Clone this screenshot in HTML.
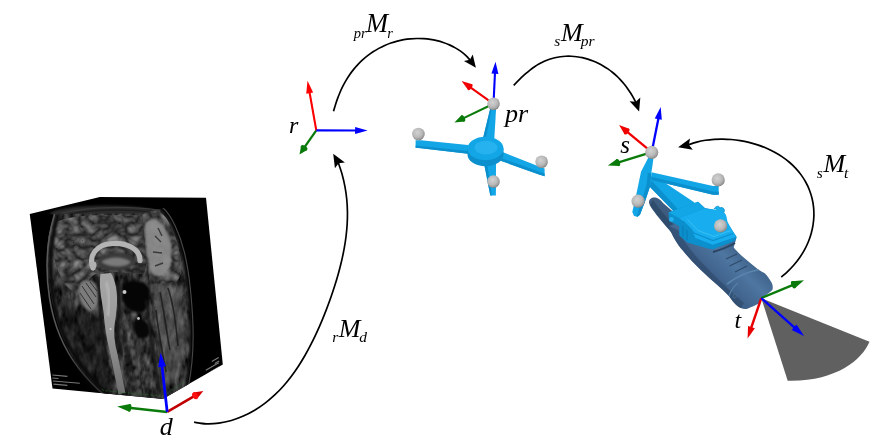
<!DOCTYPE html>
<html><head><meta charset="utf-8"><title>Coordinate transforms</title>
<style>
html,body{margin:0;padding:0;background:#fff;}
body{width:886px;height:446px;overflow:hidden;}
svg{display:block;}
svg{will-change:transform;}
svg text{font-family:"Liberation Serif",serif;font-style:italic;fill:#000;}
</style></head><body>
<svg width="886" height="446" viewBox="0 0 886 446">
<defs>
<radialGradient id="sph" cx="0.42" cy="0.38" r="0.62">
<stop offset="0" stop-color="#d2d2d2"/><stop offset="0.6" stop-color="#bababa"/><stop offset="0.9" stop-color="#9a9a9a"/><stop offset="1" stop-color="#808080"/>
</radialGradient>
<linearGradient id="cordg" gradientUnits="userSpaceOnUse" x1="105" y1="274" x2="120" y2="394"><stop offset="0" stop-color="#a6a6a6"/><stop offset="0.45" stop-color="#9a9a9a"/><stop offset="1" stop-color="#6e6e6e"/></linearGradient>
<linearGradient id="probeg" gradientUnits="userSpaceOnUse" x1="703" y1="283" x2="737" y2="247">
<stop offset="0" stop-color="#34537a"/><stop offset="0.35" stop-color="#426690"/><stop offset="0.7" stop-color="#4e76a0"/><stop offset="1" stop-color="#40648c"/>
</linearGradient>
<filter id="b05" color-interpolation-filters="sRGB" x="-20%" y="-20%" width="140%" height="140%"><feGaussianBlur stdDeviation="0.6"/></filter>
<filter id="b1" color-interpolation-filters="sRGB" x="-20%" y="-20%" width="140%" height="140%"><feGaussianBlur stdDeviation="1.1"/></filter>
<filter id="b2" color-interpolation-filters="sRGB" x="-20%" y="-20%" width="140%" height="140%"><feGaussianBlur stdDeviation="2"/></filter>
<filter id="tex" color-interpolation-filters="sRGB" x="0" y="0" width="100%" height="100%">
<feTurbulence type="fractalNoise" baseFrequency="0.16 0.07" numOctaves="3" seed="7" result="n"/>
<feColorMatrix in="n" type="matrix" values="0.6 0 0 0 -0.1  0.6 0 0 0 -0.1  0.6 0 0 0 -0.1  0 0 0 0 1" result="g"/>
<feComposite in="g" in2="SourceAlpha" operator="in"/>
</filter>
<filter id="gyri" color-interpolation-filters="sRGB" x="0" y="0" width="100%" height="100%">
<feTurbulence type="turbulence" baseFrequency="0.075 0.085" numOctaves="2" seed="11" result="n"/>
<feColorMatrix in="n" type="matrix" values="0.62 0 0 0 0.11  0.62 0 0 0 0.11  0.62 0 0 0 0.11  0 0 0 0 1" result="g"/>
<feGaussianBlur in="g" stdDeviation="0.5" result="gb"/>
<feComposite in="gb" in2="SourceAlpha" operator="in"/>
</filter>
<clipPath id="front"><polygon points="29.75,214.1 141.5,213.5 163.2,398.7 52.5,388.4"/></clipPath>
<clipPath id="right"><polygon points="141.5,213.5 206,197.7 222.8,364.4 163.2,398.7"/></clipPath>
<clipPath id="top"><polygon points="29.75,214.1 99.9,197 206,197.7 141.5,215"/></clipPath>
</defs>
<g id="cube">
<polygon points="29.75,214.1 99.9,197 206,197.7 222.8,364.4 162.6,399 52.5,388.4" fill="#000"/>
<g clip-path="url(#top)">
<ellipse cx="106" cy="214.5" rx="56" ry="9" fill="#2b2b2b" filter="url(#b1)"/>
<path d="M62,213 C90,206.5 130,206 158,210" fill="none" stroke="#3a3a3a" stroke-width="1.2" filter="url(#b05)"/>
<path d="M70,214 C95,209.5 125,209 150,212" fill="none" stroke="#1c1c1c" stroke-width="1.2" filter="url(#b05)"/>
</g>
<g clip-path="url(#front)">
<path id="headshape" d="M56,213 L143,213 L165,400 L108,397 C98,388 88,378 79.6,367.5 C70,354 63,340 58,324 C51,300 45,268 48,240 C50,228 52,220 56,213 Z" fill="#333"/>
<g filter="url(#tex)"><use href="#headshape"/></g>
<path id="cerebrum" d="M57,222 C70,215 110,214 143,216 L147,262 L144,274 L120,272 C108,270 98,272 92,276 C86,282 82,290 76,292 C66,290 56,272 53,250 C52,238 54,228 57,222 Z" fill="#555"/>
<g filter="url(#gyri)" opacity="0.95"><use href="#cerebrum"/></g>
<path d="M58,214 C51,238 48,266 53,298 C57,322 66,346 82,366 C90,377 100,388 110,396" fill="none" stroke="#0c0c0c" stroke-width="4" filter="url(#b1)"/>
<path d="M54.5,214 C47.5,238 44.5,266 49.5,298 C53.5,324 63,348 79,368.5 C87,379 97,389 106,396.5" fill="none" stroke="#585858" stroke-width="1.6" filter="url(#b05)"/>
<path d="M58,300 C75,305 90,310 100,325 L114,398 L100,398 C80,380 64,350 58,300 Z" fill="#0a0a0a" opacity="0.5" filter="url(#b2)"/>
<path d="M97,262 C102,250 126,249 135,259 C135,268 122,272 110,271 C104,270 99,267 97,262 Z" fill="#3a3a3a" filter="url(#b1)"/>
<path d="M101,262 C108,256 124,256 131,262 C126,268 110,268 101,262 Z" fill="#7a7a7a" filter="url(#b1)"/>
<path d="M93,268 C88,255 97,244.5 112,243.5 C127,242.5 140,249 140,260.5" fill="none" stroke="#b4b4b4" stroke-width="5.2" stroke-linecap="round" filter="url(#b05)"/>
<circle cx="93.2" cy="265" r="3.4" fill="#b0b0b0" filter="url(#b05)"/>
<path d="M79,286 C83,278 95,279 98,289 C100,300 97,310 91,311 C84,311 77,298 79,286 Z" fill="#7c7c7c" filter="url(#b1)"/>
<path d="M82,286 L94,304 M86,283 L96,297 M80,293 L91,309 M90,282 L97,291" stroke="#2c2c2c" stroke-width="0.9" fill="none"/>
<path d="M97,276 C100,290 100,304 101,318 C102,334 104,346 108,360" fill="none" stroke="#141414" stroke-width="3" filter="url(#b1)"/>
<path d="M117,280 C120,292 120,306 118,320 C117,332 119,344 122,356" fill="none" stroke="#141414" stroke-width="3" filter="url(#b1)"/>
<path d="M100.5,274 L111,273 C117.5,284 118.5,300 115.5,318 C113.5,330 114,340 117,352 L125.5,393 L118.5,394 L110,352 C106,336 104.5,324 103.5,312 C101.5,298 98.5,286 100.5,274 Z" fill="url(#cordg)" filter="url(#b05)"/>
<path d="M106,282 C110,292 110,304 108,316" fill="none" stroke="#b4b4b4" stroke-width="3" filter="url(#b1)"/>
<path d="M122,284 C128,279 146,280 149,288 C151,298 150,309 142,312 C133,314 124,308 122,298 Z" fill="#050505" filter="url(#b1)"/>
<path d="M135,321 C141,317 150,322 150,330 C150,338 142,341 137,336 C134,332 133,325 135,321 Z" fill="#070707" filter="url(#b1)"/>
<circle cx="124.5" cy="292" r="2" fill="#c8c8c8" filter="url(#b05)"/>
<circle cx="138.5" cy="318.5" r="1.4" fill="#c0c0c0" filter="url(#b05)"/>
<circle cx="110.5" cy="329" r="1" fill="#d0d0d0"/>
<path d="M124,336 L134,394" stroke="#1e1e1e" stroke-width="5" fill="none" stroke-dasharray="7 3" filter="url(#b1)"/>
<path d="M131,340 L140,394" stroke="#5a5a5a" stroke-width="3" fill="none" stroke-dasharray="6 4" filter="url(#b1)"/>
<path d="M146,300 C150,330 154,360 160,392" stroke="#181818" stroke-width="2.5" fill="none" filter="url(#b1)"/>
<g fill="#c8c8c8" opacity="0.6">
<rect x="52.5" y="374.5" width="15.0" height="1.1" transform="rotate(5 52.5 374.5)"/>
<rect x="52.5" y="377.4" width="6.0" height="1.1" transform="rotate(5 52.5 377.4)"/>
<rect x="53.0" y="380.4" width="27.0" height="1.1" transform="rotate(5 53.0 380.4)"/>
<rect x="53.5" y="383.6" width="14.0" height="1.1" transform="rotate(5 53.5 383.6)"/>
</g>
<path d="M102,388.5 L103,390.5 L161,396" fill="none" stroke="#256a25" stroke-width="0.7" stroke-dasharray="3 1.5" opacity="0.8"/>
</g>
<g clip-path="url(#right)">
<path id="rshape" d="M141,213 C148,208 156,206 160,208 C170,216 178,236 182,252 C186,266 189,290 190.5,315 C192,340 191,365 186,390 L163,400 Z" fill="#303030"/>
<g filter="url(#tex)"><use href="#rshape"/></g>
<path d="M151,284 C165,280 180,286 184,308 C187,330 184,360 176,380 L164,386 Z" fill="#707070" opacity="0.45" filter="url(#b2)"/>
<path d="M160,292 C164,310 166,330 170,350 M168,288 C174,306 176,326 178,346 M156,310 C158,330 162,350 166,372" fill="none" stroke="#1a1a1a" stroke-width="1.6" opacity="0.8" filter="url(#b05)"/>
<path d="M160,208 C170,216 178,236 182,252 C186,266 189,290 190.5,315 C192,340 191,365 186,390" fill="none" stroke="#0a0a0a" stroke-width="3" filter="url(#b1)"/>
<path d="M162,207 C172,215 180,235 184,251 C188,266 191,290 192.5,315 C194,340 193,365 188,388" fill="none" stroke="#484848" stroke-width="1.1" filter="url(#b05)"/>
<path id="rbrain" d="M142,215 C152,209 160,210 166,218 C174,230 179,246 181,262 C182,272 180,280 174,283 L150,284 L147,262 Z" fill="#505050"/>
<g filter="url(#gyri)" opacity="0.95"><use href="#rbrain"/></g>
<path d="M145,223 C152,216 162,220 166,230 C171,238 173,248 171,257 C172,266 168,274 161,276 C154,278 149,271 148,260 C146,250 144,234 145,223 Z" fill="#8e8e8e" opacity="0.9" filter="url(#b1)"/>
<path d="M155,236 L161,242 M153,252 L162,253 M158,228 L162,236 M155,266 L163,263" stroke="#3a3a3a" stroke-width="1.4" fill="none" filter="url(#b05)"/>
<path d="M163,395.5 L186,381" fill="none" stroke="#256a25" stroke-width="0.7" stroke-dasharray="3 1.5" opacity="0.8"/>
<g fill="#c8c8c8" opacity="0.6">
<rect x="211.5" y="361.0" width="8.0" height="1.2" transform="rotate(-30 211.5 361.0)"/>
<rect x="214.5" y="363.0" width="5.0" height="1.2" transform="rotate(-30 214.5 363.0)"/>
<rect x="205.5" y="369.8" width="15.0" height="1.2" transform="rotate(-30 205.5 369.8)"/>
<rect x="210.0" y="371.6" width="10.0" height="1.2" transform="rotate(-30 210.0 371.6)"/>
</g>
</g>
</g>
<g id="curves">
<path d="M194.10,422.20 C196.14,422.47 202.16,423.65 206.29,423.80 C210.42,423.95 214.70,423.68 218.87,423.13 C223.04,422.57 227.26,421.64 231.34,420.46 C235.41,419.29 239.45,417.79 243.34,416.08 C247.22,414.37 251.01,412.38 254.64,410.22 C258.27,408.06 261.77,405.65 265.12,403.11 C268.47,400.56 271.67,397.82 274.73,394.95 C277.78,392.09 280.69,389.06 283.46,385.94 C286.24,382.82 288.87,379.56 291.38,376.23 C293.90,372.91 296.28,369.46 298.56,365.97 C300.85,362.47 303.01,358.89 305.09,355.26 C307.18,351.63 309.15,347.94 311.06,344.21 C312.97,340.48 314.79,336.70 316.55,332.89 C318.32,329.08 320.00,325.23 321.64,321.35 C323.27,317.48 324.84,313.58 326.35,309.65 C327.87,305.72 329.32,301.77 330.72,297.80 C332.11,293.83 333.45,289.83 334.72,285.82 C335.99,281.81 337.20,277.77 338.33,273.72 C339.45,269.67 340.52,265.59 341.47,261.50 C342.43,257.41 343.31,253.30 344.06,249.17 C344.82,245.04 345.48,240.89 346.00,236.73 C346.51,232.57 346.92,228.39 347.16,224.20 C347.40,220.02 347.51,215.82 347.44,211.62 C347.36,207.43 347.14,203.22 346.73,199.04 C346.31,194.86 345.73,190.68 344.95,186.54 C344.18,182.41 343.21,178.28 342.08,174.24 C340.94,170.20 338.78,164.28 338.12,162.29" fill="none" stroke="#000" stroke-width="1.68"/><polygon points="333.20,153.70 344.90,162.56 338.62,163.16 334.92,168.27" fill="#000"/>
<path d="M333.50,111.30 C333.82,110.24 334.73,107.04 335.40,104.93 C336.07,102.82 336.77,100.72 337.53,98.64 C338.29,96.56 339.09,94.49 339.96,92.46 C340.83,90.42 341.75,88.41 342.74,86.43 C343.73,84.45 344.78,82.49 345.91,80.58 C347.03,78.67 348.22,76.79 349.47,74.97 C350.73,73.14 352.06,71.35 353.45,69.62 C354.84,67.90 356.29,66.21 357.81,64.59 C359.33,62.98 360.91,61.41 362.55,59.92 C364.19,58.43 365.90,56.99 367.65,55.64 C369.40,54.28 371.21,52.99 373.07,51.78 C374.92,50.57 376.83,49.43 378.77,48.37 C380.72,47.31 382.71,46.33 384.73,45.44 C386.76,44.55 388.82,43.73 390.91,43.01 C393.00,42.28 395.12,41.64 397.27,41.08 C399.41,40.53 401.58,40.06 403.76,39.68 C405.94,39.30 408.14,39.01 410.35,38.81 C412.56,38.61 414.78,38.49 417.00,38.47 C419.22,38.45 421.44,38.51 423.66,38.67 C425.87,38.82 428.09,39.06 430.28,39.40 C432.48,39.73 434.67,40.16 436.83,40.68 C438.98,41.19 441.13,41.80 443.23,42.50 C445.32,43.20 447.40,44.00 449.42,44.89 C451.44,45.78 453.43,46.77 455.34,47.86 C457.25,48.95 459.12,50.14 460.89,51.44 C462.66,52.74 464.38,54.14 465.98,55.67 C467.58,57.20 469.73,59.79 470.48,60.61" fill="none" stroke="#000" stroke-width="1.68"/><polygon points="475.90,67.80 463.92,61.05 469.88,59.81 472.71,54.43" fill="#000"/>
<path d="M513.70,85.30 C514.34,84.65 516.23,82.71 517.52,81.41 C518.82,80.11 520.14,78.78 521.49,77.48 C522.84,76.19 524.22,74.90 525.63,73.66 C527.05,72.42 528.49,71.20 529.98,70.04 C531.47,68.89 532.99,67.77 534.55,66.74 C536.10,65.70 537.70,64.71 539.32,63.81 C540.95,62.90 542.62,62.06 544.31,61.31 C546.00,60.55 547.72,59.88 549.47,59.28 C551.22,58.69 553.00,58.18 554.79,57.75 C556.58,57.33 558.40,56.98 560.23,56.73 C562.05,56.47 563.90,56.30 565.75,56.22 C567.59,56.13 569.45,56.13 571.31,56.22 C573.16,56.30 575.02,56.46 576.86,56.71 C578.71,56.95 580.55,57.28 582.38,57.68 C584.20,58.08 586.02,58.56 587.81,59.11 C589.59,59.66 591.37,60.28 593.11,60.97 C594.85,61.66 596.56,62.43 598.24,63.25 C599.92,64.07 601.57,64.96 603.18,65.90 C604.79,66.85 606.37,67.86 607.90,68.91 C609.43,69.97 610.92,71.09 612.36,72.25 C613.81,73.42 615.21,74.64 616.56,75.90 C617.92,77.16 619.22,78.47 620.48,79.82 C621.75,81.17 622.96,82.56 624.13,83.99 C625.30,85.42 626.42,86.89 627.49,88.40 C628.57,89.90 629.60,91.44 630.60,93.01 C631.59,94.58 632.54,96.19 633.46,97.82 C634.38,99.45 635.68,101.96 636.12,102.79" fill="none" stroke="#000" stroke-width="1.68"/><polygon points="639.10,111.60 629.61,101.19 635.80,101.84 640.32,97.57" fill="#000"/>
<path d="M781.31,277.10 C782.39,276.14 785.69,273.37 787.79,271.35 C789.88,269.33 791.94,267.20 793.88,264.97 C795.81,262.74 797.68,260.40 799.40,257.96 C801.12,255.52 802.74,252.97 804.20,250.35 C805.66,247.73 806.99,245.00 808.15,242.23 C809.30,239.46 810.31,236.60 811.13,233.72 C811.95,230.84 812.60,227.89 813.06,224.95 C813.52,222.00 813.80,219.02 813.88,216.06 C813.96,213.11 813.86,210.13 813.56,207.21 C813.26,204.29 812.77,201.38 812.09,198.54 C811.41,195.70 810.54,192.90 809.50,190.19 C808.45,187.47 807.21,184.81 805.82,182.26 C804.42,179.71 802.85,177.23 801.13,174.87 C799.41,172.51 797.52,170.24 795.51,168.10 C793.50,165.95 791.34,163.92 789.07,162.00 C786.81,160.09 784.41,158.29 781.93,156.62 C779.46,154.95 776.86,153.40 774.22,151.98 C771.57,150.55 768.83,149.25 766.06,148.07 C763.28,146.89 760.44,145.83 757.58,144.89 C754.72,143.94 751.82,143.12 748.91,142.41 C746.01,141.70 743.08,141.11 740.16,140.63 C737.24,140.14 734.31,139.77 731.40,139.51 C728.49,139.25 725.59,139.10 722.70,139.06 C719.80,139.02 716.93,139.09 714.06,139.30 C711.18,139.50 708.33,139.81 705.45,140.27 C702.57,140.74 699.71,141.32 696.79,142.09 C693.87,142.86 689.39,144.44 687.91,144.91" fill="none" stroke="#000" stroke-width="1.68"/><polygon points="678.10,147.30 690.04,138.42 688.88,144.67 692.78,149.69" fill="#000"/>
</g>
<g id="r-axes">
<line x1="316.30" y1="130.40" x2="303.51" y2="148.67" stroke="#0a7a0a" stroke-width="2.30"/><polygon points="299.50,154.40 301.06,145.72 307.12,149.97" fill="#0a7a0a"/><ellipse cx="304.09" cy="147.85" rx="2.20" ry="3.70" transform="rotate(124.99 304.09 147.85)" fill="#0a7a0a"/>
<line x1="316.30" y1="130.40" x2="309.51" y2="92.12" stroke="#ff0000" stroke-width="2.10"/><polygon points="307.50,80.80 313.13,92.50 306.24,93.72" fill="#ff0000"/>
<line x1="316.30" y1="130.40" x2="356.10" y2="130.48" stroke="#0000ff" stroke-width="2.10"/><polygon points="367.60,130.50 355.09,133.98 355.11,126.98" fill="#0000ff"/>
</g>
<g id="pr-tool">
<polygon points="415.6,140.3 421,140.3 468,144.9 468,153.8 421,148.2 415.6,147.8" fill="#12a6e6"/>
<polygon points="415.6,145.6 468,151 468,153.8 421,148.2 415.6,147.8" fill="#0b8fcd"/>
<polygon points="500,151 539,166.6 544.6,168.6 544.6,176.2 539,174.4 497,159.5" fill="#12a6e6"/>
<polygon points="498,157 544.6,173.6 544.6,176.2 539,174.4 497,159.5" fill="#0b8fcd"/>
<polygon points="483.4,160 496,160 495.9,195.6 490.3,195.6" fill="#12a6e6"/>
<polygon points="483.4,160 486.6,160 491.8,195.6 490.3,195.6" fill="#0b8fcd"/>
<polygon points="490.6,107 496.2,107 494.2,140 482.6,140" fill="#12a6e6"/>
<polygon points="490.6,107 492,107 485.6,140 482.6,140" fill="#0b8fcd"/>
<path d="M467.5,148.5 L467.5,154.6 A18,11.7 0 0 0 503.5,154.6 L503.5,148.5 Z" fill="#0b8fcd"/>
<ellipse cx="485.5" cy="148.5" rx="18" ry="11.7" fill="#12a6e6"/>
<ellipse cx="486" cy="147.6" rx="11.5" ry="6.8" fill="#26b2ee"/>
</g>
<g id="pr-axes">
<line x1="493.50" y1="103.80" x2="462.07" y2="118.83" stroke="#0a7a0a" stroke-width="2.10"/><polygon points="454.40,122.50 461.46,115.24 464.48,121.56" fill="#0a7a0a"/><ellipse cx="462.97" cy="118.40" rx="1.80" ry="3.50" transform="rotate(154.44 462.97 118.40)" fill="#0a7a0a"/>
<line x1="493.50" y1="103.80" x2="469.34" y2="86.61" stroke="#f00000" stroke-width="2.10"/><polygon points="461.60,81.10 472.18,84.34 468.13,90.04" fill="#f00000"/><ellipse cx="470.16" cy="87.19" rx="1.50" ry="3.50" transform="rotate(-144.56 470.16 87.19)" fill="#f00000"/>
<line x1="493.50" y1="103.80" x2="494.98" y2="72.79" stroke="#0000ff" stroke-width="2.10"/><polygon points="495.50,61.80 498.43,73.95 491.43,73.62" fill="#0000ff"/>
</g>
<circle cx="493.50" cy="103.80" r="6.30" fill="url(#sph)"/>
<circle cx="418.40" cy="134.00" r="6.30" fill="url(#sph)"/>
<circle cx="541.60" cy="161.80" r="6.30" fill="url(#sph)"/>
<circle cx="493.50" cy="181.50" r="6.30" fill="url(#sph)"/>
<g id="probe">
<path d="M649.2,203.5 C648.2,199.5 651.5,196.8 655.5,197.6 C658.5,198.2 661,200.5 663,203 L700,235 L690,252 L676,238 C668,228 651,210 649.2,203.5 Z" fill="#3d5c80"/>
<path d="M650,205 C656,214 668,228 678,240 L684,236 C672,224 660,210 653,200 Z" fill="#304c6c"/>
<path d="M669,226 C672,236 677,244 683,250.8 C688.5,257.5 694,263.5 700.5,269.8 C706,275 711,279.5 716.5,284.3 C721.5,288.8 725.5,292.5 729.3,296.6 C731,299 732.3,300.8 733.8,302.6 C736,305 738,306.8 740.6,308.1 C743,309 745.3,309.2 747.4,308.8 C752,307 756,305 759.6,303.3 L762,297.7 C766,295 770,292.5 772.5,289.8 C773,287.5 772.8,285 771.8,283 C770,279.5 767.5,276 765,273.5 C762.5,272 760.5,270.8 758.2,269.5 C753,265.5 748,261.5 743.1,257.1 C739.5,254 736,250.5 733.7,247.6 L736.4,238.1 L700,215 Z" fill="url(#probeg)"/>
<path d="M669,226 C672,236 677,244 683,250.8 C688.5,257.5 694,263.5 700.5,269.8 C706,275 711,279.5 716.5,284.3 C721.5,288.8 725.5,292.5 729.3,296.6 C731,299 732.3,300.8 733.8,302.6 C736,305 738,306.8 740.6,308.1 L744,303 C732,293 719,280 707,268 C695,256 685,244 678,230 Z" fill="#2c4665" opacity="0.55"/>
<path d="M727,284 C735,278 747,272 758.5,269.8" fill="none" stroke="#5b86ad" stroke-width="1.6"/>
<path d="M729,296 C731,290 734,286 738,283" fill="none" stroke="#5680a6" stroke-width="1.2"/>
<path d="M726,259 L737,254 M729.5,266 L742,260 M735,272 L747,266" fill="none" stroke="#2f4b6b" stroke-width="1.3"/>
<path d="M713,252 C720,250 730,246 735,243" fill="none" stroke="#2a4564" stroke-width="2"/>
<ellipse cx="734.6" cy="296" rx="1.6" ry="2" fill="#33506f" stroke="#5a84aa" stroke-width="0.5"/>
</g>
<g id="s-tool">
<polygon points="652,173 656.2,177.1 693,201.5 700,207 680,222 672.4,210 649,186" fill="#12a6e6"/>
<polygon points="649,186 672.4,210 680,222 684,219 676,207 652,181" fill="#0b8fcd"/>
<polygon points="648.6,157 653.4,158.5 652.4,166 651.2,173.5 650.4,185.3 645.4,200.4 640,214.8 637.5,216.8 634,216 632.3,212 636.2,195 641,171.8 644.5,165" fill="#12a6e6"/>
<polygon points="651.2,173.5 650.4,185.3 645.4,200.4 640,214.8 637.5,216.8 636.6,216.6 641.6,201 646.6,185 647.8,172.8" fill="#0b8fcd"/>
<polygon points="651.4,172.3 713,185.9 718.7,185.9 718.7,194.7 713,194.7 651.4,180" fill="#12a6e6"/>
<polygon points="651.4,176.8 713,191.4 718.7,191.4 718.7,194.7 713,194.7 651.4,180" fill="#0b8fcd"/>
<polygon points="668.4,212.6 698.2,201.8 705,207.9 715.9,209.9 721.3,209.2 726,215.3 726.7,222.1 736.8,237 734.8,241.1 713.1,249.2 707.7,248.5 687.4,242.4 679.3,235.6 679.3,226.2 669.1,220.7" fill="#0b8fcd"/>
<polygon points="668.5,212.5 698,201.7 704.8,208.5 679.2,217.9" fill="#12a6e6"/>
<polygon points="679.2,217.9 704.8,208.5 716,210 721.3,209.2 726,215.3 727.6,221.9 735.9,236.9 712.8,244.8 695.4,238 691.3,228.6" fill="#17adee"/>
<path d="M683,221 L694,233 L713,240.5 L733,233.5" fill="none" stroke="#0b8fcd" stroke-width="1.2"/>
<path d="M687.5,219.5 L698,230.5 L714,236.5 L730.5,230.5" fill="none" stroke="#3cc0f4" stroke-width="1"/>
<path d="M683,226 L683,237 M687,230 L687,240.5" fill="none" stroke="#0a7fb8" stroke-width="1.2"/>
<circle cx="671.4" cy="219.4" r="2.4" fill="#22b2ee"/>
<path d="M714,209 C716,205.5 719,205.5 720,208 C722.5,206.5 725.5,209 724,212.5" fill="#19aeea" stroke="#0b8fcd" stroke-width="0.8"/>
<ellipse cx="718.6" cy="233.6" rx="2.3" ry="1.6" fill="#22b2ee"/>
</g>
<g id="s-axes">
<line x1="651.70" y1="152.20" x2="616.98" y2="162.82" stroke="#0a7a0a" stroke-width="2.30"/><polygon points="607.90,165.60 616.86,158.99 619.02,166.07" fill="#0a7a0a"/><ellipse cx="617.94" cy="162.53" rx="2.00" ry="3.70" transform="rotate(162.99 617.94 162.53)" fill="#0a7a0a"/>
<line x1="651.70" y1="152.20" x2="626.02" y2="130.85" stroke="#f00000" stroke-width="2.30"/><polygon points="619.10,125.10 629.09,128.72 624.49,134.26" fill="#f00000"/><ellipse cx="626.79" cy="131.49" rx="1.80" ry="3.60" transform="rotate(-140.26 626.79 131.49)" fill="#f00000"/>
<line x1="651.70" y1="152.20" x2="658.46" y2="118.18" stroke="#0000ff" stroke-width="2.30"/><polygon points="660.70,106.90 661.80,119.86 654.73,118.46" fill="#0000ff"/>
</g>
<circle cx="651.70" cy="152.30" r="6.60" fill="url(#sph)"/>
<circle cx="638.10" cy="201.20" r="6.60" fill="url(#sph)"/>
<circle cx="718.20" cy="179.90" r="6.60" fill="url(#sph)"/>
<circle cx="720.60" cy="225.90" r="6.60" fill="url(#sph)"/>
<g id="fan">
<path d="M761.3,298.1 L869.5,341.8 C862,360 835,382 787.7,380.8 Z" fill="#606060"/>
</g>
<g id="t-axes">
<line x1="761.30" y1="298.10" x2="794.31" y2="284.34" stroke="#0a7a0a" stroke-width="2.40"/><polygon points="804.00,280.30 794.89,288.32 791.88,281.13" fill="#0a7a0a"/><ellipse cx="793.39" cy="284.72" rx="2.00" ry="3.90" transform="rotate(-22.63 793.39 284.72)" fill="#0a7a0a"/>
<line x1="761.30" y1="298.10" x2="751.14" y2="327.99" stroke="#e80000" stroke-width="2.40"/><polygon points="747.60,338.40 748.05,325.88 754.87,328.20" fill="#e80000"/>
<line x1="761.30" y1="298.10" x2="794.83" y2="327.87" stroke="#0000ff" stroke-width="2.40"/><polygon points="804.10,336.10 791.69,329.90 796.47,324.51" fill="#0000ff"/>
</g>
<g id="d-axes">
<line x1="167.20" y1="411.90" x2="195.95" y2="395.17" stroke="#c00000" stroke-width="2.60"/><polygon points="203.30,390.90 196.95,398.88 193.23,392.48" fill="#d80000"/><ellipse cx="195.09" cy="395.68" rx="2.60" ry="3.70" transform="rotate(-30.19 195.09 395.68)" fill="#ff1010"/>
<line x1="167.20" y1="411.90" x2="128.73" y2="407.75" stroke="#0a7a0a" stroke-width="2.50"/><polygon points="117.20,406.50 130.14,404.07 129.32,411.63" fill="#0a7a0a"/><ellipse cx="129.73" cy="407.85" rx="1.60" ry="3.80" transform="rotate(-173.84 129.73 407.85)" fill="#0a7a0a"/>
<line x1="167.20" y1="411.90" x2="161.99" y2="365.82" stroke="#0000ff" stroke-width="2.80"/><polygon points="160.50,352.60 165.98,366.37 158.23,367.25" fill="#0000ff"/>
</g>
<g id="labels">
<text x="289.00" y="133.30" font-size="24">r</text>
<text x="504.90" y="122.00" font-size="26">pr</text>
<text x="620.30" y="153.00" font-size="25">s</text>
<text x="734.40" y="328.20" font-size="24">t</text>
<text x="159.80" y="435.30" font-size="26">d</text>
<text x="366.00" y="32.00" font-size="26.5">M</text><text x="366.70" y="37.90" font-size="14.5" text-anchor="end">pr</text><text x="387.30" y="37.90" font-size="14.5">r</text>
<text x="561.00" y="40.60" font-size="26">M</text><text x="560.30" y="46.10" font-size="15.5" text-anchor="end">s</text><text x="580.70" y="46.10" font-size="15.5">pr</text>
<text x="823.40" y="171.80" font-size="26">M</text><text x="822.70" y="177.70" font-size="15.5" text-anchor="end">s</text><text x="843.90" y="177.70" font-size="15.5">t</text>
<text x="338.70" y="337.30" font-size="26">M</text><text x="338.40" y="342.10" font-size="15.5" text-anchor="end">r</text><text x="359.20" y="342.10" font-size="15.5">d</text>
</g>
</svg>
</body></html>
